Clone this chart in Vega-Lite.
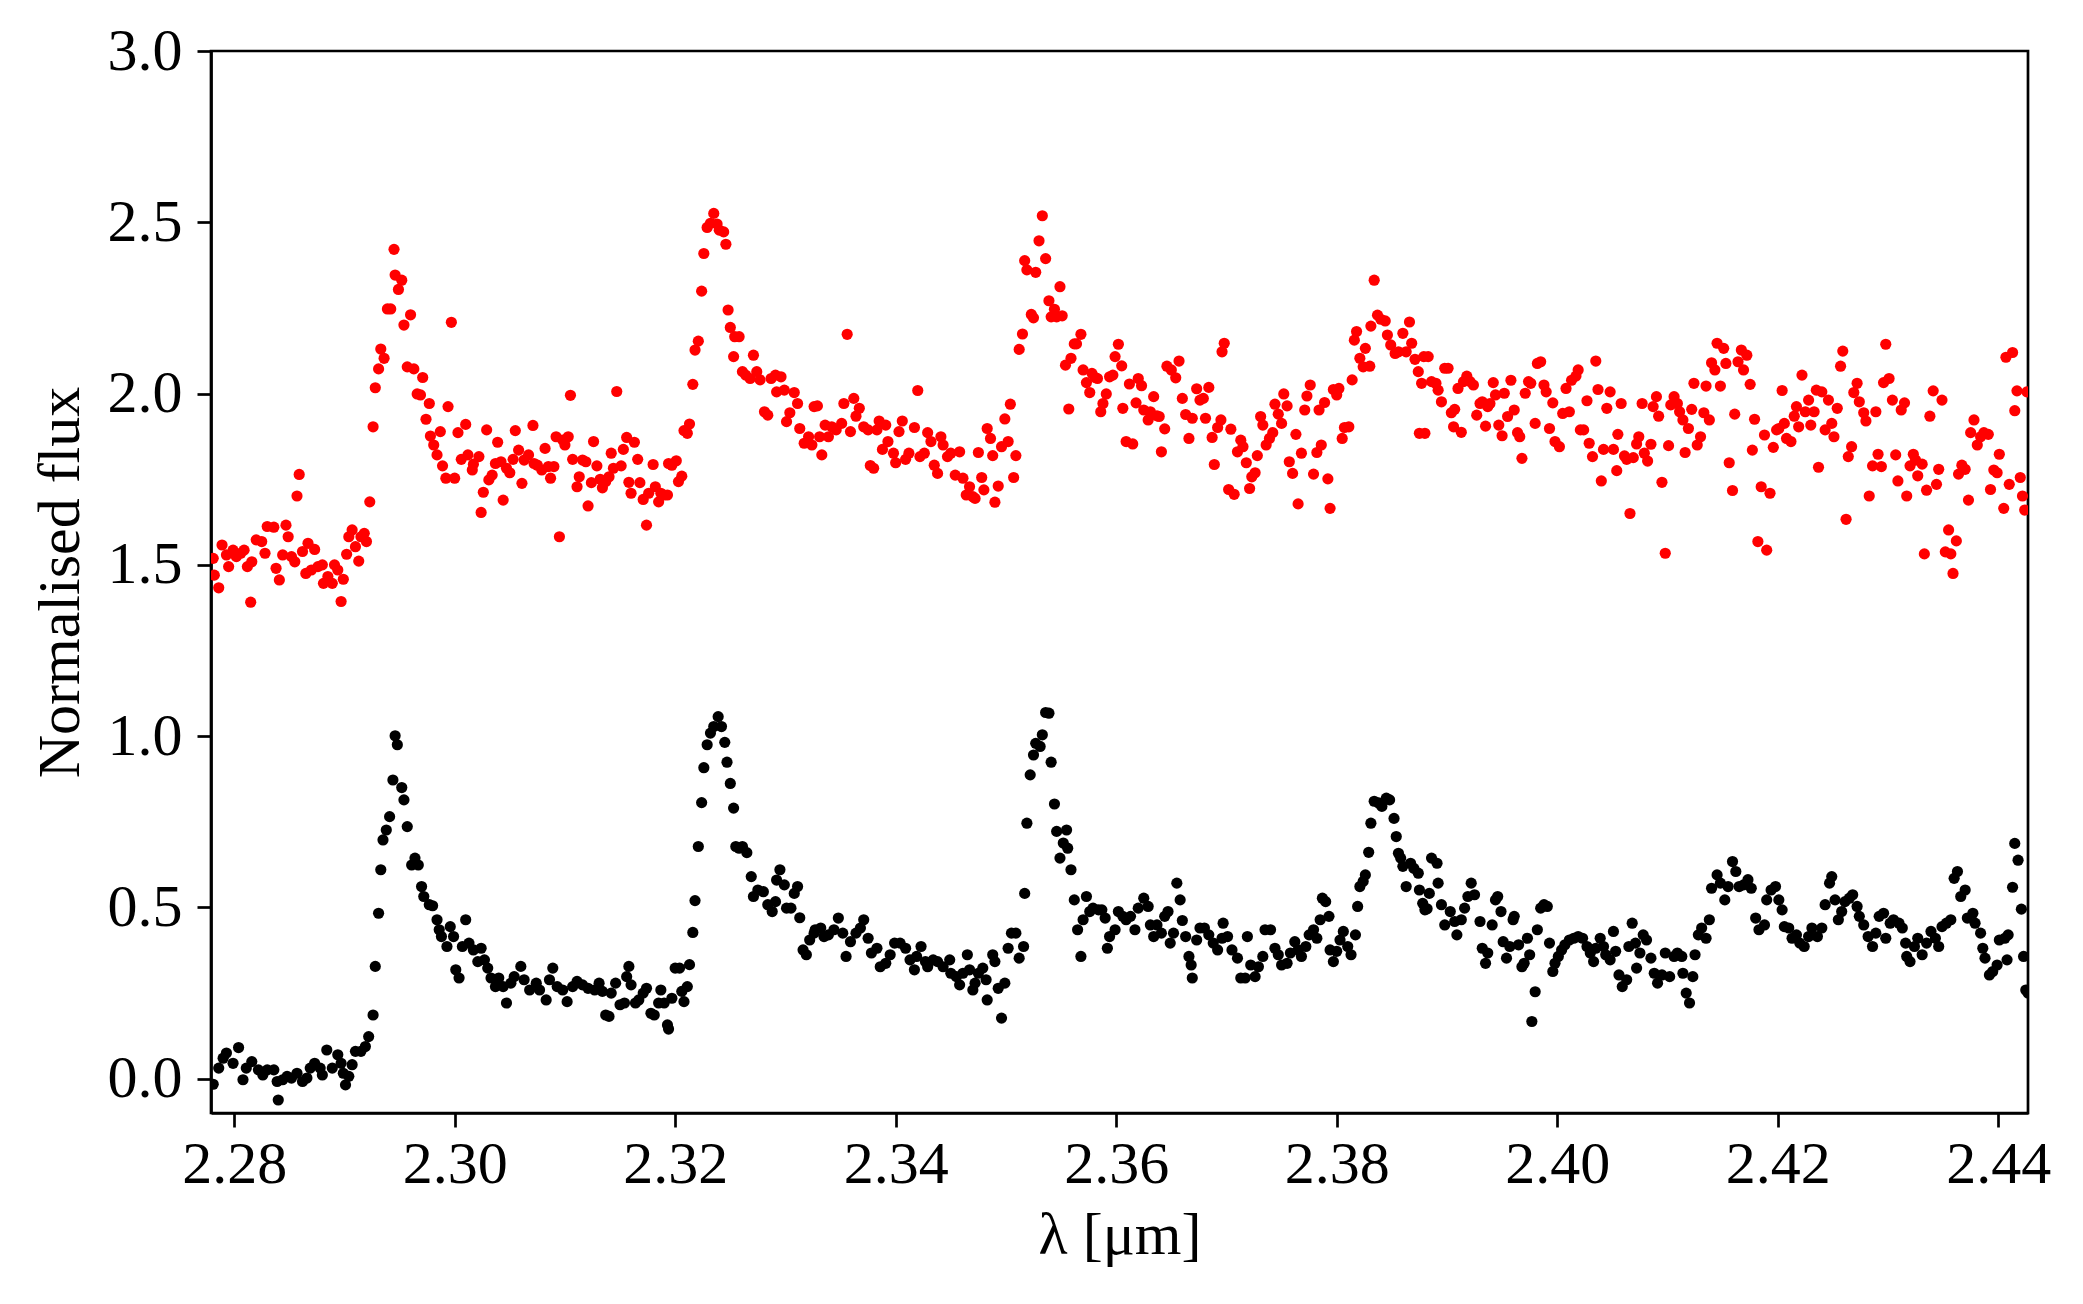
{
"$schema":"https://vega.github.io/schema/vega-lite/v6.json",
"width":1817,"height":1062,
"autosize":{"type":"none"},
"padding":{"left":211,"top":51,"right":55,"bottom":191},
"background":"white",
"config":{
"view":{"stroke":"black","strokeWidth":2.7},
"font":"Liberation Serif",
"axis":{"labelFont":"Liberation Serif","titleFont":"Liberation Serif","labelFontSize":60,"titleFontSize":60,"titleFontWeight":"normal","labelColor":"black","titleColor":"black","tickColor":"black","domainColor":"black","tickWidth":2.7,"domainWidth":2.7,"tickSize":14,"grid":false}
},
"datasets":{
"black":[
{"x":2.2781,"y":-0.016},{"x":2.2786,"y":0.031},{"x":2.2790,"y":0.060},{"x":2.2793,"y":0.075},{"x":2.2799,"y":0.045},{"x":2.2804,"y":0.091},{"x":2.2808,"y":-0.003},{"x":2.2811,"y":0.031},{"x":2.2816,"y":0.050},{"x":2.2822,"y":0.026},{"x":2.2826,"y":0.011},{"x":2.2830,"y":0.026},{"x":2.2836,"y":0.026},{"x":2.2839,"y":-0.008},{"x":2.2840,"y":-0.062},{"x":2.2844,"y":-0.003},{"x":2.2848,"y":0.007},{"x":2.2852,"y":0.002},{"x":2.2857,"y":0.016},{"x":2.2862,"y":-0.008},{"x":2.2866,"y":0.002},{"x":2.2869,"y":0.031},{"x":2.2873,"y":0.045},{"x":2.2878,"y":0.031},{"x":2.2880,"y":0.011},{"x":2.2884,"y":0.084},{"x":2.2889,"y":0.031},{"x":2.2894,"y":0.070},{"x":2.2897,"y":0.045},{"x":2.2899,"y":0.016},{"x":2.2901,"y":-0.018},{"x":2.2904,"y":0.007},{"x":2.2907,"y":0.041},{"x":2.2910,"y":0.080},{"x":2.2915,"y":0.080},{"x":2.2919,"y":0.094},{"x":2.2922,"y":0.123},{"x":2.2926,"y":0.186},{"x":2.2928,"y":0.328},{"x":2.2931,"y":0.483},{"x":2.2933,"y":0.610},{"x":2.2935,"y":0.697},{"x":2.2938,"y":0.726},{"x":2.2941,"y":0.765},{"x":2.2944,"y":0.872},{"x":2.2946,"y":1.001},{"x":2.2948,"y":0.975},{"x":2.2952,"y":0.850},{"x":2.2954,"y":0.814},{"x":2.2957,"y":0.736},{"x":2.2961,"y":0.624},{"x":2.2964,"y":0.644},{"x":2.2967,"y":0.624},{"x":2.2970,"y":0.561},{"x":2.2972,"y":0.532},{"x":2.2977,"y":0.508},{"x":2.2980,"y":0.505},{"x":2.2984,"y":0.464},{"x":2.2986,"y":0.435},{"x":2.2988,"y":0.415},{"x":2.2993,"y":0.386},{"x":2.2996,"y":0.444},{"x":2.2999,"y":0.415},{"x":2.3001,"y":0.318},{"x":2.3004,"y":0.294},{"x":2.3007,"y":0.386},{"x":2.3010,"y":0.464},{"x":2.3013,"y":0.396},{"x":2.3017,"y":0.376},{"x":2.3021,"y":0.342},{"x":2.3024,"y":0.381},{"x":2.3027,"y":0.347},{"x":2.3030,"y":0.323},{"x":2.3033,"y":0.294},{"x":2.3037,"y":0.269},{"x":2.3040,"y":0.294},{"x":2.3044,"y":0.269},{"x":2.3047,"y":0.221},{"x":2.3051,"y":0.279},{"x":2.3054,"y":0.298},{"x":2.3060,"y":0.328},{"x":2.3063,"y":0.289},{"x":2.3068,"y":0.259},{"x":2.3074,"y":0.279},{"x":2.3077,"y":0.259},{"x":2.3083,"y":0.230},{"x":2.3086,"y":0.289},{"x":2.3089,"y":0.323},{"x":2.3093,"y":0.269},{"x":2.3098,"y":0.259},{"x":2.3102,"y":0.225},{"x":2.3107,"y":0.269},{"x":2.3111,"y":0.284},{"x":2.3116,"y":0.274},{"x":2.3121,"y":0.264},{"x":2.3127,"y":0.259},{"x":2.3131,"y":0.279},{"x":2.3134,"y":0.255},{"x":2.3137,"y":0.186},{"x":2.3140,"y":0.182},{"x":2.3142,"y":0.250},{"x":2.3146,"y":0.279},{"x":2.3150,"y":0.216},{"x":2.3154,"y":0.221},{"x":2.3156,"y":0.298},{"x":2.3158,"y":0.328},{"x":2.3160,"y":0.274},{"x":2.3164,"y":0.221},{"x":2.3167,"y":0.230},{"x":2.3171,"y":0.250},{"x":2.3174,"y":0.264},{"x":2.3178,"y":0.191},{"x":2.3181,"y":0.186},{"x":2.3185,"y":0.221},{"x":2.3187,"y":0.259},{"x":2.3190,"y":0.221},{"x":2.3193,"y":0.157},{"x":2.3194,"y":0.145},{"x":2.3197,"y":0.235},{"x":2.3200,"y":0.323},{"x":2.3204,"y":0.323},{"x":2.3206,"y":0.255},{"x":2.3208,"y":0.225},{"x":2.3211,"y":0.269},{"x":2.3213,"y":0.333},{"x":2.3216,"y":0.427},{"x":2.3218,"y":0.520},{"x":2.3221,"y":0.678},{"x":2.3224,"y":0.806},{"x":2.3226,"y":0.908},{"x":2.3229,"y":0.975},{"x":2.3232,"y":1.009},{"x":2.3235,"y":1.028},{"x":2.3239,"y":1.057},{"x":2.3242,"y":1.028},{"x":2.3245,"y":0.982},{"x":2.3247,"y":0.924},{"x":2.3250,"y":0.862},{"x":2.3253,"y":0.790},{"x":2.3255,"y":0.678},{"x":2.3258,"y":0.673},{"x":2.3261,"y":0.678},{"x":2.3265,"y":0.660},{"x":2.3269,"y":0.590},{"x":2.3271,"y":0.532},{"x":2.3275,"y":0.551},{"x":2.3280,"y":0.546},{"x":2.3284,"y":0.508},{"x":2.3288,"y":0.488},{"x":2.3291,"y":0.517},{"x":2.3292,"y":0.580},{"x":2.3295,"y":0.610},{"x":2.3299,"y":0.566},{"x":2.3301,"y":0.498},{"x":2.3305,"y":0.498},{"x":2.3308,"y":0.541},{"x":2.3311,"y":0.561},{"x":2.3313,"y":0.470},{"x":2.3316,"y":0.376},{"x":2.3319,"y":0.362},{"x":2.3322,"y":0.405},{"x":2.3326,"y":0.425},
{"x":2.3327,"y":0.435},{"x":2.3332,"y":0.440},{"x":2.3335,"y":0.415},{"x":2.3339,"y":0.420},{"x":2.3344,"y":0.435},{"x":2.3348,"y":0.469},{"x":2.3352,"y":0.425},{"x":2.3355,"y":0.357},{"x":2.3359,"y":0.400},{"x":2.3364,"y":0.425},{"x":2.3368,"y":0.440},{"x":2.3371,"y":0.464},{"x":2.3375,"y":0.410},{"x":2.3378,"y":0.367},{"x":2.3383,"y":0.381},{"x":2.3386,"y":0.327},{"x":2.3391,"y":0.337},{"x":2.3395,"y":0.362},{"x":2.3399,"y":0.396},{"x":2.3404,"y":0.396},{"x":2.3409,"y":0.381},{"x":2.3413,"y":0.347},{"x":2.3417,"y":0.318},{"x":2.3419,"y":0.357},{"x":2.3423,"y":0.386},{"x":2.3427,"y":0.342},{"x":2.3429,"y":0.327},{"x":2.3434,"y":0.347},{"x":2.3438,"y":0.342},{"x":2.3443,"y":0.327},{"x":2.3449,"y":0.347},{"x":2.3450,"y":0.308},{"x":2.3455,"y":0.298},{"x":2.3458,"y":0.274},{"x":2.3461,"y":0.308},{"x":2.3465,"y":0.362},{"x":2.3467,"y":0.318},{"x":2.3470,"y":0.259},{"x":2.3472,"y":0.279},{"x":2.3475,"y":0.308},{"x":2.3479,"y":0.323},{"x":2.3482,"y":0.289},{"x":2.3483,"y":0.230},{"x":2.3488,"y":0.362},{"x":2.3490,"y":0.342},{"x":2.3493,"y":0.264},{"x":2.3496,"y":0.177},{"x":2.3499,"y":0.279},{"x":2.3502,"y":0.381},{"x":2.3505,"y":0.425},{"x":2.3509,"y":0.425},{"x":2.3512,"y":0.352},{"x":2.3516,"y":0.386},{"x":2.3517,"y":0.541},{"x":2.3519,"y":0.746},{"x":2.3522,"y":0.887},{"x":2.3525,"y":0.945},{"x":2.3527,"y":0.979},{"x":2.3531,"y":0.970},{"x":2.3533,"y":1.004},{"x":2.3536,"y":1.069},{"x":2.3539,"y":1.067},{"x":2.3541,"y":0.924},{"x":2.3544,"y":0.802},{"x":2.3546,"y":0.722},{"x":2.3549,"y":0.644},{"x":2.3552,"y":0.688},{"x":2.3555,"y":0.726},{"x":2.3556,"y":0.673},{"x":2.3559,"y":0.610},{"x":2.3562,"y":0.522},{"x":2.3565,"y":0.435},{"x":2.3568,"y":0.357},{"x":2.3570,"y":0.464},{"x":2.3573,"y":0.532},{"x":2.3576,"y":0.488},{"x":2.3579,"y":0.498},{"x":2.3584,"y":0.493},{"x":2.3587,"y":0.493},{"x":2.3590,"y":0.469},{"x":2.3592,"y":0.381},{"x":2.3594,"y":0.415},{"x":2.3599,"y":0.435},{"x":2.3602,"y":0.488},{"x":2.3606,"y":0.474},{"x":2.3609,"y":0.464},{"x":2.3613,"y":0.474},{"x":2.3617,"y":0.435},{"x":2.3620,"y":0.498},{"x":2.3625,"y":0.527},{"x":2.3629,"y":0.503},{"x":2.3631,"y":0.449},{"x":2.3634,"y":0.415},{"x":2.3637,"y":0.449},{"x":2.3641,"y":0.425},{"x":2.3644,"y":0.474},{"x":2.3647,"y":0.488},{"x":2.3649,"y":0.396},{"x":2.3652,"y":0.425},{"x":2.3655,"y":0.571},{"x":2.3658,"y":0.522},{"x":2.3660,"y":0.462},{"x":2.3663,"y":0.415},{"x":2.3666,"y":0.357},{"x":2.3668,"y":0.332},{"x":2.3669,"y":0.294},{"x":2.3673,"y":0.405},{"x":2.3676,"y":0.440},{"x":2.3680,"y":0.440},{"x":2.3684,"y":0.420},{"x":2.3688,"y":0.396},{"x":2.3692,"y":0.376},{"x":2.3696,"y":0.410},{"x":2.3697,"y":0.454},{"x":2.3701,"y":0.415},{"x":2.3705,"y":0.376},{"x":2.3710,"y":0.352},{"x":2.3713,"y":0.294},{"x":2.3717,"y":0.294},{"x":2.3719,"y":0.415},{"x":2.3722,"y":0.332},{"x":2.3726,"y":0.298},{"x":2.3729,"y":0.327},{"x":2.3733,"y":0.357},{"x":2.3735,"y":0.435},{"x":2.3740,"y":0.435},{"x":2.3744,"y":0.381},{"x":2.3747,"y":0.362},{"x":2.3750,"y":0.332},{"x":2.3755,"y":0.337},{"x":2.3758,"y":0.367},{"x":2.3762,"y":0.400},{"x":2.3765,"y":0.376},{"x":2.3768,"y":0.357},{"x":2.3772,"y":0.386},{"x":2.3775,"y":0.420},{"x":2.3779,"y":0.435},{"x":2.3782,"y":0.410},{"x":2.3785,"y":0.464},{"x":2.3787,"y":0.527},{"x":2.3790,"y":0.517},{"x":2.3793,"y":0.474},{"x":2.3794,"y":0.376},{"x":2.3797,"y":0.342},{"x":2.3800,"y":0.372},{"x":2.3803,"y":0.405},{"x":2.3806,"y":0.430},{"x":2.3810,"y":0.386},{"x":2.3813,"y":0.362},{"x":2.3817,"y":0.420},{"x":2.3819,"y":0.503},{"x":2.3821,"y":0.561},{"x":2.3824,"y":0.576},{"x":2.3826,"y":0.595},{"x":2.3829,"y":0.661},{"x":2.3831,"y":0.746},{"x":2.3834,"y":0.810},{"x":2.3838,"y":0.805},{"x":2.3841,"y":0.795},{"x":2.3845,"y":0.819},{"x":2.3848,"y":0.814},{"x":2.3852,"y":0.760},{"x":2.3854,"y":0.707},{"x":2.3856,"y":0.658},{"x":2.3858,"y":0.644},{"x":2.3860,"y":0.620},{"x":2.3863,"y":0.561},{"x":2.3867,"y":0.629},{"x":2.3870,"y":0.614},{"x":2.3874,"y":0.600},{"x":2.3875,"y":0.551},{"x":2.3878,"y":0.512},{"x":2.3880,"y":0.493},
{"x":2.3882,"y":0.496},{"x":2.3884,"y":0.541},{"x":2.3886,"y":0.644},{"x":2.3891,"y":0.629},{"x":2.3892,"y":0.571},{"x":2.3895,"y":0.508},{"x":2.3898,"y":0.449},{"x":2.3903,"y":0.488},{"x":2.3907,"y":0.459},{"x":2.3909,"y":0.420},{"x":2.3913,"y":0.464},{"x":2.3916,"y":0.498},{"x":2.3919,"y":0.532},{"x":2.3922,"y":0.571},{"x":2.3925,"y":0.537},{"x":2.3930,"y":0.459},{"x":2.3932,"y":0.381},{"x":2.3935,"y":0.337},{"x":2.3937,"y":0.367},{"x":2.3941,"y":0.449},{"x":2.3944,"y":0.522},{"x":2.3946,"y":0.532},{"x":2.3949,"y":0.488},{"x":2.3951,"y":0.400},{"x":2.3954,"y":0.352},{"x":2.3957,"y":0.386},{"x":2.3960,"y":0.464},{"x":2.3961,"y":0.474},{"x":2.3965,"y":0.391},{"x":2.3968,"y":0.327},{"x":2.3970,"y":0.337},{"x":2.3973,"y":0.410},{"x":2.3975,"y":0.362},{"x":2.3977,"y":0.167},{"x":2.3980,"y":0.254},{"x":2.3982,"y":0.435},{"x":2.3985,"y":0.498},{"x":2.3988,"y":0.508},{"x":2.3991,"y":0.503},{"x":2.3993,"y":0.396},{"x":2.3996,"y":0.313},{"x":2.3998,"y":0.337},{"x":2.4001,"y":0.357},{"x":2.4004,"y":0.376},{"x":2.4007,"y":0.391},{"x":2.4011,"y":0.405},{"x":2.4015,"y":0.410},{"x":2.4019,"y":0.415},{"x":2.4023,"y":0.410},{"x":2.4027,"y":0.386},{"x":2.4030,"y":0.367},{"x":2.4033,"y":0.342},{"x":2.4035,"y":0.381},{"x":2.4039,"y":0.410},{"x":2.4042,"y":0.386},{"x":2.4044,"y":0.362},{"x":2.4048,"y":0.347},{"x":2.4051,"y":0.430},{"x":2.4053,"y":0.372},{"x":2.4056,"y":0.303},{"x":2.4059,"y":0.269},{"x":2.4063,"y":0.289},{"x":2.4065,"y":0.386},{"x":2.4068,"y":0.454},{"x":2.4071,"y":0.396},{"x":2.4072,"y":0.323},{"x":2.4075,"y":0.367},{"x":2.4078,"y":0.420},{"x":2.4081,"y":0.405},{"x":2.4085,"y":0.352},{"x":2.4088,"y":0.308},{"x":2.4091,"y":0.279},{"x":2.4095,"y":0.303},{"x":2.4098,"y":0.367},{"x":2.4102,"y":0.298},{"x":2.4106,"y":0.357},{"x":2.4109,"y":0.367},{"x":2.4113,"y":0.357},{"x":2.4114,"y":0.308},{"x":2.4117,"y":0.250},{"x":2.4120,"y":0.221},{"x":2.4123,"y":0.298},{"x":2.4125,"y":0.362},{"x":2.4128,"y":0.420},{"x":2.4131,"y":0.440},{"x":2.4135,"y":0.410},{"x":2.4138,"y":0.464},{"x":2.4140,"y":0.556},{"x":2.4145,"y":0.595},{"x":2.4148,"y":0.571},{"x":2.4152,"y":0.522},{"x":2.4155,"y":0.561},{"x":2.4159,"y":0.634},{"x":2.4162,"y":0.605},{"x":2.4165,"y":0.561},{"x":2.4169,"y":0.566},{"x":2.4173,"y":0.581},{"x":2.4176,"y":0.556},{"x":2.4180,"y":0.469},{"x":2.4183,"y":0.435},{"x":2.4188,"y":0.449},{"x":2.4190,"y":0.522},{"x":2.4194,"y":0.551},{"x":2.4198,"y":0.561},{"x":2.4201,"y":0.522},{"x":2.4204,"y":0.493},{"x":2.4206,"y":0.444},{"x":2.4210,"y":0.440},{"x":2.4213,"y":0.410},{"x":2.4217,"y":0.420},{"x":2.4220,"y":0.396},{"x":2.4224,"y":0.386},{"x":2.4228,"y":0.415},{"x":2.4231,"y":0.440},{"x":2.4236,"y":0.415},{"x":2.4240,"y":0.440},{"x":2.4243,"y":0.508},{"x":2.4247,"y":0.571},{"x":2.4249,"y":0.590},{"x":2.4252,"y":0.522},{"x":2.4255,"y":0.464},{"x":2.4258,"y":0.488},{"x":2.4261,"y":0.517},{"x":2.4265,"y":0.527},{"x":2.4268,"y":0.537},{"x":2.4272,"y":0.503},{"x":2.4274,"y":0.474},{"x":2.4278,"y":0.449},{"x":2.4282,"y":0.415},{"x":2.4286,"y":0.386},{"x":2.4289,"y":0.425},{"x":2.4292,"y":0.474},{"x":2.4296,"y":0.483},{"x":2.4298,"y":0.410},{"x":2.4302,"y":0.454},{"x":2.4305,"y":0.464},{"x":2.4310,"y":0.454},{"x":2.4313,"y":0.440},{"x":2.4316,"y":0.396},{"x":2.4317,"y":0.357},{"x":2.4320,"y":0.342},{"x":2.4324,"y":0.386},{"x":2.4327,"y":0.410},{"x":2.4331,"y":0.362},{"x":2.4335,"y":0.396},{"x":2.4339,"y":0.430},{"x":2.4343,"y":0.410},{"x":2.4346,"y":0.386},{"x":2.4349,"y":0.444},{"x":2.4353,"y":0.454},{"x":2.4357,"y":0.464},{"x":2.4360,"y":0.585},{"x":2.4363,"y":0.605},{"x":2.4366,"y":0.532},{"x":2.4370,"y":0.551},{"x":2.4372,"y":0.469},{"x":2.4377,"y":0.483},{"x":2.4379,"y":0.454},{"x":2.4384,"y":0.425},{"x":2.4386,"y":0.381},{"x":2.4388,"y":0.352},{"x":2.4392,"y":0.303},{"x":2.4395,"y":0.313},{"x":2.4399,"y":0.332},{"x":2.4401,"y":0.405},{"x":2.4406,"y":0.410},{"x":2.4408,"y":0.347},{"x":2.4409,"y":0.420},{"x":2.4413,"y":0.559},{"x":2.4415,"y":0.687},{"x":2.4418,"y":0.638},{"x":2.4421,"y":0.495},{"x":2.4423,"y":0.357},{"x":2.4425,"y":0.259},{"x":2.4427,"y":0.250}
],
"red":[
{"x":2.2781,"y":1.519},{"x":2.2782,"y":1.470},{"x":2.2786,"y":1.433},{"x":2.2789,"y":1.558},{"x":2.2793,"y":1.529},{"x":2.2795,"y":1.495},{"x":2.2799,"y":1.543},{"x":2.2802,"y":1.524},{"x":2.2806,"y":1.534},{"x":2.2809,"y":1.543},{"x":2.2812,"y":1.495},{"x":2.2815,"y":1.391},{"x":2.2816,"y":1.509},{"x":2.2820,"y":1.573},{"x":2.2825,"y":1.568},{"x":2.2828,"y":1.534},{"x":2.2830,"y":1.612},{"x":2.2836,"y":1.610},{"x":2.2838,"y":1.490},{"x":2.2841,"y":1.456},{"x":2.2844,"y":1.529},{"x":2.2847,"y":1.616},{"x":2.2849,"y":1.582},{"x":2.2852,"y":1.524},{"x":2.2855,"y":1.509},{"x":2.2857,"y":1.701},{"x":2.2859,"y":1.764},{"x":2.2862,"y":1.539},{"x":2.2865,"y":1.475},{"x":2.2867,"y":1.563},{"x":2.2870,"y":1.485},{"x":2.2873,"y":1.545},{"x":2.2876,"y":1.495},{"x":2.2880,"y":1.500},{"x":2.2881,"y":1.446},{"x":2.2885,"y":1.466},{"x":2.2889,"y":1.446},{"x":2.2891,"y":1.500},{"x":2.2894,"y":1.485},{"x":2.2897,"y":1.393},{"x":2.2899,"y":1.458},{"x":2.2902,"y":1.531},{"x":2.2904,"y":1.582},{"x":2.2907,"y":1.602},{"x":2.2910,"y":1.553},{"x":2.2913,"y":1.511},{"x":2.2915,"y":1.582},{"x":2.2918,"y":1.592},{"x":2.2920,"y":1.568},{"x":2.2923,"y":1.684},{"x":2.2926,"y":1.903},{"x":2.2928,"y":2.017},{"x":2.2931,"y":2.072},{"x":2.2933,"y":2.130},{"x":2.2936,"y":2.103},{"x":2.2939,"y":2.247},{"x":2.2942,"y":2.247},{"x":2.2945,"y":2.421},{"x":2.2946,"y":2.346},{"x":2.2949,"y":2.304},{"x":2.2952,"y":2.331},{"x":2.2954,"y":2.200},{"x":2.2957,"y":2.078},{"x":2.2960,"y":2.230},{"x":2.2963,"y":2.072},{"x":2.2966,"y":1.999},{"x":2.2969,"y":1.996},{"x":2.2971,"y":2.047},{"x":2.2974,"y":1.925},{"x":2.2977,"y":1.971},{"x":2.2978,"y":1.876},{"x":2.2981,"y":1.850},{"x":2.2984,"y":1.821},{"x":2.2987,"y":1.889},{"x":2.2989,"y":1.789},{"x":2.2992,"y":1.753},{"x":2.2994,"y":1.962},{"x":2.2997,"y":2.208},{"x":2.3000,"y":1.753},{"x":2.3003,"y":1.886},{"x":2.3006,"y":1.808},{"x":2.3010,"y":1.910},{"x":2.3012,"y":1.821},{"x":2.3016,"y":1.777},{"x":2.3017,"y":1.794},{"x":2.3022,"y":1.816},{"x":2.3024,"y":1.653},{"x":2.3026,"y":1.712},{"x":2.3029,"y":1.894},{"x":2.3031,"y":1.748},{"x":2.3034,"y":1.762},{"x":2.3037,"y":1.796},{"x":2.3039,"y":1.858},{"x":2.3042,"y":1.801},{"x":2.3044,"y":1.689},{"x":2.3047,"y":1.782},{"x":2.3050,"y":1.769},{"x":2.3053,"y":1.808},{"x":2.3055,"y":1.892},{"x":2.3058,"y":1.835},{"x":2.3061,"y":1.738},{"x":2.3063,"y":1.806},{"x":2.3067,"y":1.821},{"x":2.3071,"y":1.907},{"x":2.3072,"y":1.796},{"x":2.3075,"y":1.791},{"x":2.3079,"y":1.777},{"x":2.3082,"y":1.840},{"x":2.3085,"y":1.787},{"x":2.3087,"y":1.753},{"x":2.3090,"y":1.787},{"x":2.3092,"y":1.874},{"x":2.3095,"y":1.582},{"x":2.3098,"y":1.864},{"x":2.3100,"y":1.850},{"x":2.3103,"y":1.874},{"x":2.3105,"y":1.995},{"x":2.3107,"y":1.808},{"x":2.3111,"y":1.728},{"x":2.3113,"y":1.757},{"x":2.3116,"y":1.806},{"x":2.3119,"y":1.801},{"x":2.3121,"y":1.672},{"x":2.3124,"y":1.740},{"x":2.3126,"y":1.860},{"x":2.3129,"y":1.789},{"x":2.3132,"y":1.750},{"x":2.3134,"y":1.725},{"x":2.3137,"y":1.743},{"x":2.3140,"y":1.757},{"x":2.3142,"y":1.826},{"x":2.3144,"y":1.782},{"x":2.3147,"y":2.006},{"x":2.3151,"y":1.789},{"x":2.3153,"y":1.837},{"x":2.3156,"y":1.872},{"x":2.3158,"y":1.741},{"x":2.3160,"y":1.709},{"x":2.3163,"y":1.858},{"x":2.3166,"y":1.808},{"x":2.3168,"y":1.740},{"x":2.3171,"y":1.691},{"x":2.3174,"y":1.616},{"x":2.3176,"y":1.709},{"x":2.3180,"y":1.793},{"x":2.3182,"y":1.728},{"x":2.3185,"y":1.684},{"x":2.3187,"y":1.709},{"x":2.3190,"y":1.704},{"x":2.3193,"y":1.704},{"x":2.3194,"y":1.796},{"x":2.3197,"y":1.791},{"x":2.3201,"y":1.804},{"x":2.3203,"y":1.743},{"x":2.3206,"y":1.759},{"x":2.3208,"y":1.892},{"x":2.3211,"y":1.884},{"x":2.3213,"y":1.911},{"x":2.3216,"y":2.027},{"x":2.3218,"y":2.127},{"x":2.3221,"y":2.153},{"x":2.3224,"y":2.299},{"x":2.3226,"y":2.409},{"x":2.3229,"y":2.485},{"x":2.3232,"y":2.497},{"x":2.3235,"y":2.526},{"x":2.3238,"y":2.495},{"x":2.3240,"y":2.477},{"x":2.3244,"y":2.472},{"x":2.3246,"y":2.436},{"x":2.3248,"y":2.244},{"x":2.3250,"y":2.193},{"x":2.3253,"y":2.108},{"x":2.3254,"y":2.166},{"x":2.3258,"y":2.166},{"x":2.3261,"y":2.064},{"x":2.3264,"y":2.054},{"x":2.3268,"y":2.044},{"x":2.3271,"y":2.112},{"x":2.3274,"y":2.064},{"x":2.3277,"y":2.040},{"x":2.3281,"y":1.947},{"x":2.3284,"y":1.937},{"x":2.3287,"y":2.044},{"x":2.3291,"y":2.054},{"x":2.3292,"y":2.005},{"x":2.3296,"y":2.049},{"x":2.3299,"y":2.010},{"x":2.3301,"y":1.918},{"x":2.3304,"y":1.944},{"x":2.3308,"y":2.003},{"x":2.3311,"y":1.971},{"x":2.3313,"y":1.898},{"x":2.3317,"y":1.855},{"x":2.3321,"y":1.874},{"x":2.3324,"y":1.850},{"x":2.3326,"y":1.962},
{"x":2.3329,"y":1.964},{"x":2.3331,"y":1.874},{"x":2.3333,"y":1.821},{"x":2.3336,"y":1.908},{"x":2.3339,"y":1.874},{"x":2.3342,"y":1.903},{"x":2.3346,"y":1.894},{"x":2.3351,"y":1.913},{"x":2.3353,"y":1.971},{"x":2.3356,"y":2.173},{"x":2.3359,"y":1.889},{"x":2.3362,"y":1.986},{"x":2.3364,"y":1.934},{"x":2.3367,"y":1.957},{"x":2.3371,"y":1.903},{"x":2.3375,"y":1.894},{"x":2.3377,"y":1.790},{"x":2.3380,"y":1.782},{"x":2.3383,"y":1.894},{"x":2.3385,"y":1.920},{"x":2.3388,"y":1.837},{"x":2.3391,"y":1.908},{"x":2.3393,"y":1.860},{"x":2.3398,"y":1.826},{"x":2.3400,"y":1.798},{"x":2.3403,"y":1.889},{"x":2.3406,"y":1.920},{"x":2.3409,"y":1.808},{"x":2.3412,"y":1.826},{"x":2.3417,"y":1.901},{"x":2.3420,"y":2.009},{"x":2.3422,"y":1.816},{"x":2.3426,"y":1.826},{"x":2.3429,"y":1.886},{"x":2.3432,"y":1.860},{"x":2.3435,"y":1.791},{"x":2.3438,"y":1.767},{"x":2.3441,"y":1.874},{"x":2.3443,"y":1.850},{"x":2.3447,"y":1.816},{"x":2.3450,"y":1.826},{"x":2.3454,"y":1.762},{"x":2.3458,"y":1.830},{"x":2.3461,"y":1.753},{"x":2.3464,"y":1.704},{"x":2.3467,"y":1.728},{"x":2.3470,"y":1.699},{"x":2.3472,"y":1.694},{"x":2.3475,"y":1.828},{"x":2.3478,"y":1.755},{"x":2.3480,"y":1.719},{"x":2.3483,"y":1.898},{"x":2.3486,"y":1.869},{"x":2.3488,"y":1.819},{"x":2.3490,"y":1.683},{"x":2.3493,"y":1.730},{"x":2.3496,"y":1.845},{"x":2.3499,"y":1.926},{"x":2.3502,"y":1.860},{"x":2.3504,"y":1.969},{"x":2.3507,"y":1.755},{"x":2.3509,"y":1.819},{"x":2.3512,"y":2.129},{"x":2.3515,"y":2.174},{"x":2.3517,"y":2.388},{"x":2.3519,"y":2.361},{"x":2.3523,"y":2.231},{"x":2.3525,"y":2.221},{"x":2.3527,"y":2.354},{"x":2.3530,"y":2.446},{"x":2.3533,"y":2.519},{"x":2.3536,"y":2.394},{"x":2.3539,"y":2.271},{"x":2.3541,"y":2.224},{"x":2.3544,"y":2.246},{"x":2.3546,"y":2.224},{"x":2.3549,"y":2.312},{"x":2.3551,"y":2.227},{"x":2.3554,"y":2.083},{"x":2.3557,"y":1.955},{"x":2.3559,"y":2.103},{"x":2.3562,"y":2.145},{"x":2.3564,"y":2.145},{"x":2.3568,"y":2.173},{"x":2.3570,"y":2.069},{"x":2.3573,"y":2.032},{"x":2.3576,"y":2.003},{"x":2.3578,"y":2.059},{"x":2.3581,"y":2.047},{"x":2.3583,"y":2.044},{"x":2.3586,"y":1.947},{"x":2.3588,"y":1.971},{"x":2.3591,"y":1.999},{"x":2.3594,"y":2.049},{"x":2.3597,"y":2.054},{"x":2.3599,"y":2.108},{"x":2.3602,"y":2.144},{"x":2.3605,"y":2.081},{"x":2.3606,"y":1.957},{"x":2.3609,"y":1.860},{"x":2.3612,"y":2.028},{"x":2.3615,"y":1.853},{"x":2.3618,"y":1.973},{"x":2.3620,"y":2.044},{"x":2.3623,"y":2.023},{"x":2.3625,"y":1.952},{"x":2.3629,"y":1.923},{"x":2.3631,"y":1.947},{"x":2.3634,"y":1.991},{"x":2.3637,"y":1.935},{"x":2.3639,"y":1.933},{"x":2.3641,"y":1.830},{"x":2.3644,"y":1.897},{"x":2.3646,"y":2.080},{"x":2.3650,"y":2.069},{"x":2.3654,"y":2.046},{"x":2.3657,"y":2.095},{"x":2.3660,"y":1.986},{"x":2.3663,"y":1.939},{"x":2.3666,"y":1.869},{"x":2.3669,"y":1.928},{"x":2.3673,"y":2.014},{"x":2.3676,"y":1.981},{"x":2.3679,"y":1.986},{"x":2.3681,"y":1.928},{"x":2.3684,"y":2.018},{"x":2.3687,"y":1.872},{"x":2.3689,"y":1.793},{"x":2.3692,"y":1.901},{"x":2.3695,"y":1.923},{"x":2.3696,"y":2.122},{"x":2.3698,"y":2.147},{"x":2.3702,"y":1.720},{"x":2.3704,"y":1.896},{"x":2.3707,"y":1.706},{"x":2.3710,"y":1.830},{"x":2.3713,"y":1.864},{"x":2.3715,"y":1.845},{"x":2.3718,"y":1.798},{"x":2.3721,"y":1.723},{"x":2.3723,"y":1.757},{"x":2.3726,"y":1.769},{"x":2.3728,"y":1.819},{"x":2.3731,"y":1.933},{"x":2.3733,"y":1.908},{"x":2.3736,"y":1.850},{"x":2.3739,"y":1.869},{"x":2.3742,"y":1.886},{"x":2.3744,"y":1.969},{"x":2.3747,"y":1.940},{"x":2.3750,"y":1.913},{"x":2.3752,"y":1.999},{"x":2.3755,"y":1.964},{"x":2.3757,"y":1.801},{"x":2.3760,"y":1.767},{"x":2.3763,"y":1.881},{"x":2.3765,"y":1.678},{"x":2.3768,"y":1.826},{"x":2.3771,"y":1.952},{"x":2.3773,"y":1.993},{"x":2.3776,"y":2.025},{"x":2.3779,"y":1.765},{"x":2.3782,"y":1.828},{"x":2.3784,"y":1.952},{"x":2.3786,"y":1.850},{"x":2.3789,"y":1.974},{"x":2.3792,"y":1.751},{"x":2.3794,"y":1.665},{"x":2.3797,"y":2.012},{"x":2.3800,"y":1.996},{"x":2.3802,"y":2.015},{"x":2.3805,"y":1.869},{"x":2.3807,"y":1.901},{"x":2.3811,"y":1.903},{"x":2.3814,"y":2.040},{"x":2.3816,"y":2.156},{"x":2.3818,"y":2.181},{"x":2.3821,"y":2.103},{"x":2.3824,"y":2.078},{"x":2.3826,"y":2.132},{"x":2.3830,"y":2.080},{"x":2.3831,"y":2.197},{"x":2.3834,"y":2.331},{"x":2.3837,"y":2.229},{"x":2.3840,"y":2.217},{"x":2.3844,"y":2.212},{"x":2.3846,"y":2.171},{"x":2.3849,"y":2.142},{"x":2.3853,"y":2.117},{"x":2.3856,"y":2.122},{"x":2.3860,"y":2.176},{"x":2.3863,"y":2.122},{"x":2.3866,"y":2.209},{"x":2.3868,"y":2.147},{"x":2.3871,"y":2.100},{"x":2.3874,"y":2.064},{"x":2.3875,"y":1.884},{"x":2.3877,"y":2.030},{"x":2.3879,"y":2.108},
{"x":2.3880,"y":1.884},{"x":2.3883,"y":2.108},{"x":2.3886,"y":2.035},{"x":2.3890,"y":2.030},{"x":2.3892,"y":2.010},{"x":2.3895,"y":1.976},{"x":2.3898,"y":2.074},{"x":2.3901,"y":2.074},{"x":2.3904,"y":1.944},{"x":2.3906,"y":1.903},{"x":2.3907,"y":1.954},{"x":2.3910,"y":2.015},{"x":2.3913,"y":1.887},{"x":2.3915,"y":2.035},{"x":2.3918,"y":2.051},{"x":2.3921,"y":2.035},{"x":2.3924,"y":2.025},{"x":2.3927,"y":1.937},{"x":2.3930,"y":1.971},{"x":2.3932,"y":1.976},{"x":2.3935,"y":1.905},{"x":2.3937,"y":1.962},{"x":2.3939,"y":1.971},{"x":2.3942,"y":2.032},{"x":2.3944,"y":1.996},{"x":2.3947,"y":1.908},{"x":2.3950,"y":1.877},{"x":2.3952,"y":2.001},{"x":2.3955,"y":1.933},{"x":2.3958,"y":2.039},{"x":2.3961,"y":1.952},{"x":2.3964,"y":1.886},{"x":2.3966,"y":1.874},{"x":2.3968,"y":1.811},{"x":2.3971,"y":2.001},{"x":2.3974,"y":2.035},{"x":2.3976,"y":2.030},{"x":2.3980,"y":1.913},{"x":2.3982,"y":2.088},{"x":2.3985,"y":2.093},{"x":2.3988,"y":2.025},{"x":2.3990,"y":2.005},{"x":2.3993,"y":1.898},{"x":2.3996,"y":1.973},{"x":2.3998,"y":1.860},{"x":2.4002,"y":1.845},{"x":2.4005,"y":1.942},{"x":2.4008,"y":2.015},{"x":2.4011,"y":1.947},{"x":2.4013,"y":2.039},{"x":2.4017,"y":2.051},{"x":2.4019,"y":2.069},{"x":2.4021,"y":1.894},{"x":2.4024,"y":1.894},{"x":2.4027,"y":1.979},{"x":2.4029,"y":1.855},{"x":2.4032,"y":1.816},{"x":2.4035,"y":2.095},{"x":2.4037,"y":2.012},{"x":2.4040,"y":1.745},{"x":2.4042,"y":1.837},{"x":2.4045,"y":1.957},{"x":2.4048,"y":2.005},{"x":2.4051,"y":1.837},{"x":2.4054,"y":1.775},{"x":2.4055,"y":1.881},{"x":2.4058,"y":1.971},{"x":2.4061,"y":1.818},{"x":2.4063,"y":1.808},{"x":2.4066,"y":1.650},{"x":2.4069,"y":1.813},{"x":2.4072,"y":1.853},{"x":2.4074,"y":1.874},{"x":2.4077,"y":1.971},{"x":2.4079,"y":1.826},{"x":2.4082,"y":1.803},{"x":2.4085,"y":1.852},{"x":2.4087,"y":1.962},{"x":2.4090,"y":1.991},{"x":2.4092,"y":1.934},{"x":2.4095,"y":1.741},{"x":2.4098,"y":1.534},{"x":2.4101,"y":1.848},{"x":2.4103,"y":1.967},{"x":2.4106,"y":1.991},{"x":2.4109,"y":1.971},{"x":2.4111,"y":1.947},{"x":2.4114,"y":1.923},{"x":2.4116,"y":1.828},{"x":2.4119,"y":1.898},{"x":2.4122,"y":1.954},{"x":2.4124,"y":2.030},{"x":2.4127,"y":1.850},{"x":2.4130,"y":1.874},{"x":2.4133,"y":1.944},{"x":2.4135,"y":2.022},{"x":2.4138,"y":1.923},{"x":2.4140,"y":2.090},{"x":2.4143,"y":2.069},{"x":2.4145,"y":2.147},{"x":2.4148,"y":2.022},{"x":2.4151,"y":2.132},{"x":2.4153,"y":2.088},{"x":2.4156,"y":1.798},{"x":2.4159,"y":1.717},{"x":2.4161,"y":1.940},{"x":2.4164,"y":2.093},{"x":2.4167,"y":2.127},{"x":2.4169,"y":2.069},{"x":2.4172,"y":2.112},{"x":2.4175,"y":2.027},{"x":2.4177,"y":1.835},{"x":2.4179,"y":1.925},{"x":2.4182,"y":1.568},{"x":2.4185,"y":1.728},{"x":2.4188,"y":1.879},{"x":2.4190,"y":1.543},{"x":2.4193,"y":1.709},{"x":2.4196,"y":1.843},{"x":2.4199,"y":1.894},{"x":2.4201,"y":1.898},{"x":2.4204,"y":2.009},{"x":2.4206,"y":1.913},{"x":2.4208,"y":1.869},{"x":2.4212,"y":1.860},{"x":2.4215,"y":1.934},{"x":2.4217,"y":1.962},{"x":2.4219,"y":1.903},{"x":2.4222,"y":2.054},{"x":2.4225,"y":1.947},{"x":2.4228,"y":1.981},{"x":2.4230,"y":1.908},{"x":2.4233,"y":1.947},{"x":2.4235,"y":2.010},{"x":2.4237,"y":1.785},{"x":2.4240,"y":2.005},{"x":2.4243,"y":1.894},{"x":2.4246,"y":1.981},{"x":2.4249,"y":1.913},{"x":2.4251,"y":1.874},{"x":2.4254,"y":1.957},{"x":2.4257,"y":2.080},{"x":2.4259,"y":2.124},{"x":2.4262,"y":1.633},{"x":2.4264,"y":1.816},{"x":2.4267,"y":1.845},{"x":2.4269,"y":2.003},{"x":2.4272,"y":2.030},{"x":2.4274,"y":1.976},{"x":2.4278,"y":1.944},{"x":2.4280,"y":1.920},{"x":2.4283,"y":1.701},{"x":2.4286,"y":1.789},{"x":2.4289,"y":1.947},{"x":2.4291,"y":1.823},{"x":2.4294,"y":1.787},{"x":2.4296,"y":2.032},{"x":2.4298,"y":2.144},{"x":2.4301,"y":2.044},{"x":2.4304,"y":1.981},{"x":2.4307,"y":1.821},{"x":2.4309,"y":1.745},{"x":2.4312,"y":1.952},{"x":2.4315,"y":1.973},{"x":2.4317,"y":1.701},{"x":2.4320,"y":1.789},{"x":2.4323,"y":1.823},{"x":2.4325,"y":1.806},{"x":2.4327,"y":1.760},{"x":2.4331,"y":1.794},{"x":2.4333,"y":1.532},{"x":2.4335,"y":1.718},{"x":2.4338,"y":1.934},{"x":2.4341,"y":2.008},{"x":2.4344,"y":1.735},{"x":2.4346,"y":1.779},{"x":2.4349,"y":1.981},{"x":2.4352,"y":1.538},{"x":2.4355,"y":1.602},{"x":2.4357,"y":1.532},{"x":2.4359,"y":1.475},{"x":2.4362,"y":1.570},{"x":2.4364,"y":1.765},{"x":2.4367,"y":1.791},{"x":2.4370,"y":1.779},{"x":2.4373,"y":1.689},{"x":2.4375,"y":1.886},{"x":2.4378,"y":1.923},{"x":2.4381,"y":1.850},{"x":2.4384,"y":1.874},{"x":2.4387,"y":1.886},{"x":2.4391,"y":1.881},{"x":2.4393,"y":1.720},{"x":2.4396,"y":1.777},{"x":2.4399,"y":1.769},{"x":2.4401,"y":1.823},{"x":2.4405,"y":1.665},{"x":2.4407,"y":2.106},{"x":2.4410,"y":1.735},{"x":2.4413,"y":2.120},{"x":2.4415,"y":1.950},{"x":2.4417,"y":2.008},{"x":2.4420,"y":1.755},{"x":2.4422,"y":1.701},{"x":2.4424,"y":1.660},{"x":2.4426,"y":2.005}
]
},
"layer":[
{"data":{"name":"red"},"mark":{"type":"circle","size":125,"color":"#ff0000","opacity":1,"clip":true},
"encoding":{
"x":{"field":"x","type":"quantitative","scale":{"domain":[2.2779,2.4427],"nice":false,"zero":false},
"axis":{"title":"λ [μm]","values":[2.28,2.30,2.32,2.34,2.36,2.38,2.40,2.42,2.44],"format":".2f","labelPadding":8,"titlePadding":12,"labelFlush":false}},
"y":{"field":"y","type":"quantitative","scale":{"domain":[-0.1,3.0],"nice":false,"zero":false},
"axis":{"title":"Normalised flux","values":[0,0.5,1,1.5,2,2.5,3],"format":".1f","labelPadding":15,"titlePadding":16,"labelFlush":false}}}},
{"data":{"name":"black"},"mark":{"type":"circle","size":125,"color":"#000000","opacity":1,"clip":true},
"encoding":{
"x":{"field":"x","type":"quantitative"},
"y":{"field":"y","type":"quantitative"}}}
]
}
